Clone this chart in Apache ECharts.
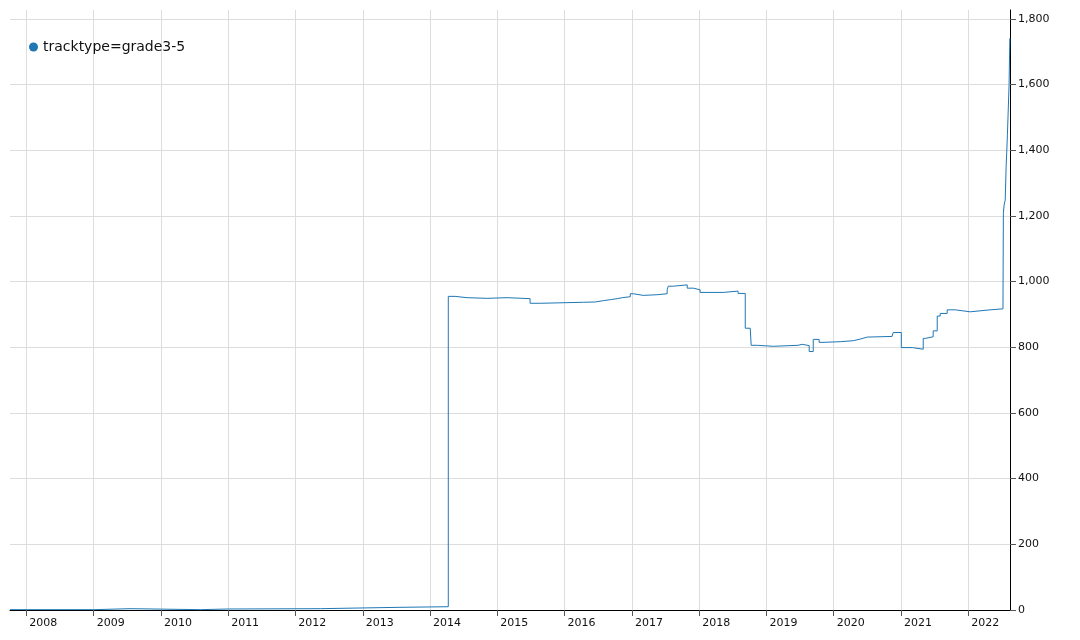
<!DOCTYPE html>
<html>
<head>
<meta charset="utf-8">
<script src="https://cdn.jsdelivr.net/npm/echarts@6/dist/echarts.min.js"></script>
<style>
html,body{margin:0;padding:0;background:#fff;}
#chart{width:1080px;height:640px;}
</style>
</head>
<body>
<div id="chart"></div>
<script>
var seriesName = 'tracktype=grade3-5';
var dates = [
  '2007-10-05','2009-01-04','2009-07-18','2010-08-03','2011-01-01','2012-05-15','2013-07-06',
  '2014-04-10','2014-05-17','2014-07-21','2014-11-07','2015-02-23','2015-06-28','2015-08-22',
  '2016-04-12','2016-06-16','2016-07-30','2016-09-06','2016-10-13','2016-11-10','2016-12-23',
  '2017-01-08','2017-03-03','2017-05-18','2017-07-11','2017-07-17','2017-08-13','2017-10-28',
  '2017-11-30','2018-01-06','2018-05-11','2018-07-31','2018-09-08','2018-10-05','2018-10-10',
  '2018-11-12','2019-02-07','2019-06-22','2019-07-14','2019-08-21','2019-09-12','2019-10-14',
  '2019-11-04','2020-02-05','2020-04-16','2020-05-24','2020-07-01','2020-11-13','2020-11-19',
  '2021-01-02','2021-03-03','2021-05-01','2021-05-12','2021-06-24','2021-07-16','2021-08-01',
  '2021-09-08','2021-10-22','2022-01-11','2022-04-29','2022-07-08','2022-07-10','2022-07-14',
  '2022-07-20','2022-07-25','2022-07-28','2022-08-01','2022-08-06','2022-08-10','2022-08-14',
  '2022-08-15'
];
var values = [
  1, 4, 1, 3, 4, 8, 10,
  955, 951, 949, 951, 948, 934, 937,
  938, 942, 945, 948, 951, 954, 963,
  958, 960, 963, 975, 986, 990, 980,
  975, 967, 971, 964, 858, 854, 806,
  803, 806, 809, 805, 787, 824, 815,
  817, 820, 825, 831, 833, 827, 845,
  799, 794, 827, 832, 850, 895, 903,
  914, 908, 914, 917, 935, 1208, 1233,
  1248, 1350, 1391, 1447, 1452, 1600, 1741,
  1741
];
var xMin = '2007-10-05';
var xMax = '2022-08-15';
var yMax = 1827;
var yInterval = 200;

var data = dates.map(function (d, i) { return [d, values[i]]; });
var YEAR = 365.25 * 24 * 3600 * 1000;

var chart = echarts.init(document.getElementById('chart'), null, {renderer: 'canvas'});
chart.setOption({
  animation: false,
  backgroundColor: '#fff',
  textStyle: {fontFamily: 'DejaVu Sans'},
  legend: {
    left: 24, top: 35,
    icon: 'circle', itemWidth: 9, itemHeight: 9, itemGap: 10,
    textStyle: {fontFamily: 'DejaVu Sans', fontSize: 14, color: '#111'},
    data: [seriesName]
  },
  grid: {left: 10, right: 70, top: 10, bottom: 30, containLabel: false},
  xAxis: {
    type: 'time',
    min: xMin, max: xMax,
    splitNumber: 15,
    minInterval: YEAR, maxInterval: YEAR,
    axisLine: {show: true, onZero: false, lineStyle: {color: '#000', width: 1}},
    axisTick: {show: true, length: 6, lineStyle: {color: '#555'}},
    axisLabel: {
      formatter: '{yyyy}', align: 'left', margin: 8, padding: [0, 0, 0, 3],
      fontFamily: 'DejaVu Sans', fontSize: 11, color: '#111',
      showMinLabel: false, showMaxLabel: false, hideOverlap: false
    },
    splitLine: {show: true, showMinLine: false, showMaxLine: false, lineStyle: {color: '#ddd', width: 1}}
  },
  yAxis: {
    type: 'value',
    position: 'right',
    min: 0, max: yMax, interval: yInterval,
    axisLine: {show: true, lineStyle: {color: '#000', width: 1}},
    axisTick: {show: true, length: 6, lineStyle: {color: '#555'}},
    axisLabel: {
      margin: 8, fontFamily: 'DejaVu Sans', fontSize: 11, color: '#111',
      showMaxLabel: false,
      formatter: function (v) { return v.toLocaleString('en-US'); }
    },
    splitLine: {show: true, showMaxLine: false, lineStyle: {color: '#ddd', width: 1}}
  },
  series: [{
    name: seriesName,
    type: 'line',
    step: 'end',
    showSymbol: false,
    symbol: 'circle',
    color: '#1f77b4',
    lineStyle: {width: 1, color: '#1f77b4'},
    data: data
  }]
});
</script>
</body>
</html>
